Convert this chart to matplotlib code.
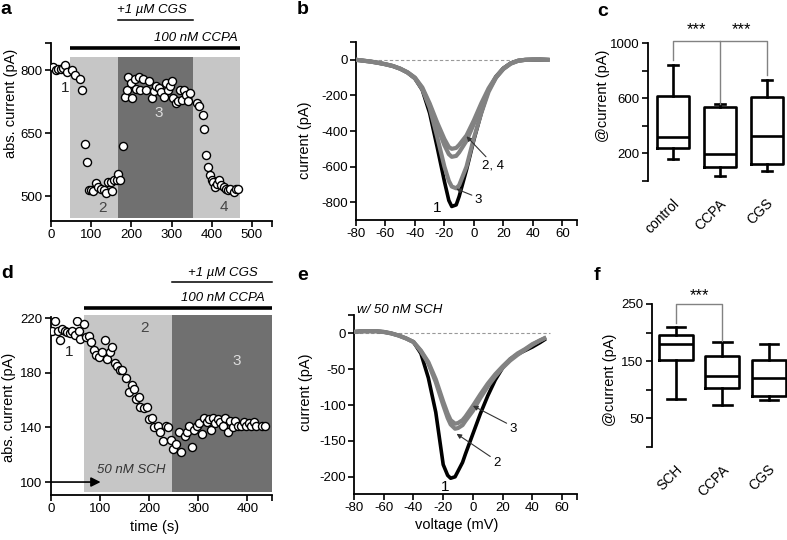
import matplotlib
matplotlib.use('Agg')
import matplotlib.pyplot as plt
import matplotlib.transforms as mtrans

plt.rcParams['font.family'] = ['Liberation Sans', 'DejaVu Sans']
plt.rcParams['font.size'] = 9.5
plt.rcParams['axes.linewidth'] = 1.3
plt.rcParams['axes.unicode_minus'] = False

# ---- panel a: time course, CCPA then CCPA + CGS
a_time = [6, 12, 18, 25, 30, 36, 41, 53, 59, 72,
          78, 84, 89, 94, 99, 105, 111, 117, 125, 132,
          138, 143, 150, 152, 158, 164, 166, 172, 179, 184,
          189, 192, 198, 201, 208, 212, 218, 222, 230, 237,
          244, 251, 257, 261, 268, 274, 280, 286, 292, 296,
          301, 304, 311, 316, 321, 327, 331, 335, 341, 347,
          364, 368, 378, 381, 386, 391, 395, 400, 404, 409,
          413, 419, 424, 430, 436, 441, 446, 455, 460, 465]
a_curr = [808, 800, 802, 803, 806, 812, 797, 800, 788, 779,
          752, 624, 581, 514, 514, 513, 532, 521, 518, 516,
          508, 534, 534, 513, 538, 538, 552, 538, 620, 736,
          754, 783, 770, 735, 779, 756, 783, 754, 779, 754,
          775, 735, 751, 763, 757, 748, 736, 770, 754, 763,
          775, 734, 721, 727, 754, 730, 754, 740, 727, 747,
          721, 715, 694, 661, 598, 570, 551, 538, 534, 522,
          530, 538, 526, 522, 518, 516, 518, 510, 518, 518]
a_periods = [(48, 167), (167, 354), (354, 470)]   # CCPA / CCPA+CGS / CCPA
a_labels = ['1', '2', '3', '4']

# ---- panel b: I-V curves
b_volt = [-80, -75, -70, -65, -60, -55, -50, -45, -40, -35, -30, -25, -20, -17, -15,
          -12, -10, -5, 0, 5, 10, 15, 20, 25, 30, 35, 40, 45, 50]
b_i1 = [0, -5, -10, -17, -25, -35, -50, -72, -105, -170, -300, -487, -683, -790, -824,
        -815, -768, -618, -450, -300, -168, -94, -47, -19, -5, 0, 0, 0, 0]
b_i2 = [0, -5, -10, -17, -25, -35, -50, -70, -100, -155, -245, -350, -445, -490, -500,
        -495, -478, -425, -340, -245, -160, -95, -50, -20, -5, 0, 2, 2, 0]
b_i4 = [0, -5, -10, -17, -25, -35, -50, -71, -102, -162, -255, -370, -480, -530, -545,
        -540, -520, -455, -360, -260, -170, -100, -52, -22, -6, 0, 2, 3, 0]
b_i3 = [0, -5, -10, -17, -25, -35, -50, -72, -104, -165, -270, -430, -600, -680, -712,
        -722, -705, -600, -440, -300, -180, -100, -50, -20, -5, 0, 2, 2, 0]

# ---- panel c: box plot summary
c_names = ['control', 'CCPA', 'CGS']
c_whislo = [161, 38, 69]
c_q1 = [239, 101, 122]
c_med = [316, 193, 324]
c_q3 = [619, 539, 610]
c_whishi = [838, 556, 731]

# ---- panel d: time course with SCH
d_time = [3, 9, 14, 19, 23, 28, 33, 38, 43, 48,
          52, 56, 60, 67, 72, 77, 82, 87, 92, 98,
          104, 109, 115, 120, 125, 130, 135, 140, 145, 152,
          159, 164, 168, 173, 180, 182, 190, 195, 200, 205,
          210, 217, 222, 228, 234, 239, 244, 249, 254, 260,
          265, 272, 276, 282, 287, 292, 298, 302, 307, 311,
          317, 321, 325, 329, 334, 340, 345, 350, 355, 360,
          365, 371, 375, 381, 386, 392, 398, 403, 408, 413,
          418, 429, 435]
d_curr = [211, 218, 211, 204, 212, 211, 210, 209, 211, 208,
          218, 211, 205, 216, 206, 207, 203, 197, 193, 192,
          195, 204, 190, 195, 199, 187, 185, 182, 182, 176,
          166, 171, 168, 161, 162, 155, 154, 155, 146, 147,
          140, 141, 137, 130, 141, 140, 131, 124, 128, 137,
          122, 134, 137, 141, 126, 138, 141, 143, 135, 147,
          144, 146, 138, 147, 143, 146, 144, 141, 147, 137,
          145, 140, 145, 141, 141, 144, 141, 143, 141, 144,
          141, 141, 141]
d_periods = [(67, 246), (246, 450)]
d_labels = ['1', '2', '3']

# ---- panel e: I-V curves with SCH
e_volt = [-80, -75, -70, -65, -60, -55, -50, -45, -40, -35, -30, -25, -20, -17, -15,
          -12, -10, -7, -5, 0, 5, 10, 15, 20, 25, 30, 35, 40, 45, 48]
e_i1 = [2, 3, 3, 3, 2, 0, -3, -7, -12, -28, -62, -110, -183, -198, -202,
        -200, -192, -180, -168, -140, -112, -87, -65, -48, -36, -29, -24, -19, -13, -9]
e_i2 = [2, 3, 3, 3, 2, 0, -3, -7, -12, -25, -42, -68, -100, -118, -127,
        -133, -132, -128, -122, -108, -90, -74, -60, -48, -38, -30, -23, -16, -10, -7]
e_i3 = [2, 3, 3, 3, 2, 0, -3, -7, -12, -24, -40, -64, -95, -112, -121,
        -126, -125, -121, -116, -101, -85, -70, -57, -46, -36, -28, -22, -15, -10, -7]

# ---- panel f
f_names = ['SCH', 'CCPA', 'CGS']
f_whislo = [84, 74, 83]
f_q1 = [152, 104, 90]
f_med = [180, 124, 120]
f_q3 = [195, 159, 152]
f_whishi = [209, 183, 180]

LIGHT = '#c6c6c6'
DARK = '#707070'
GREY = '#828282'

W, H = 787, 540
fig = plt.figure(figsize=(W / 100, H / 100), dpi=100)


def axes_px(l, r, t, b):
    return fig.add_axes([l / W, 1 - b / H, (r - l) / W, (b - t) / H])


def style(ax):
    for s in ['top', 'right']:
        ax.spines[s].set_visible(False)
    ax.tick_params(which='both', direction='out', length=4, width=1.2, labelsize=9.5, pad=2)


def box_panel(ax, names, lo, q1, med, q3, hi, width, capw):
    stats = [dict(label=n, whislo=a, q1=b, med=c, q3=d, whishi=e, fliers=[])
             for n, a, b, c, d, e in zip(names, lo, q1, med, q3, hi)]
    lw = 1.9
    ax.bxp(stats, positions=[1, 2, 3], widths=width, capwidths=capw, showfliers=False,
           boxprops=dict(lw=lw), whiskerprops=dict(lw=lw), capprops=dict(lw=lw),
           medianprops=dict(color='black', lw=lw))
    style(ax)
    ax.spines['bottom'].set_visible(False)
    ax.tick_params(axis='x', length=0, pad=11, labelsize=10)
    off = mtrans.ScaledTranslation(0.09, 0, fig.dpi_scale_trans)
    for lab in ax.get_xticklabels():
        lab.set_rotation(45)
        lab.set_ha('right')
        lab.set_va('top')
        lab.set_transform(lab.get_transform() + off)


# ================= a
ax = axes_px(51, 272, 43, 221)
style(ax)
ax.set_xlim(0, 550)
ax.set_ylim(441, 865)
for (x0, x1), col in zip(a_periods, [LIGHT, DARK, LIGHT]):
    ax.fill_between([x0, x1], 449, 832, color=col, lw=0, zorder=0)
ax.plot(a_time, a_curr, 'o', ms=5.8, mfc='white', mec='black', mew=1, zorder=3)
ax.set_xticks([0, 100, 200, 300, 400, 500])
ax.set_xticks([550], minor=True)
ax.set_yticks([500, 650, 800])
ax.set_yticks([865], minor=True)
ax.set_ylabel('abs. current (pA)', fontsize=10.5)
ax.yaxis.set_label_coords(-0.15, 0.66)
tr = ax.get_xaxis_transform()
ax.plot([a_periods[0][0], a_periods[-1][1]], [0.972, 0.972], transform=tr,
        color='black', lw=2.6, clip_on=False, solid_capstyle='butt')
ax.text(465, 1.03, '100 nM CCPA', transform=tr, ha='right', va='center', style='italic')
ax.plot([a_periods[1][0], a_periods[1][1]], [1.13, 1.13], transform=tr,
        color='black', lw=1.1, clip_on=False)
ax.text(250, 1.185, '+1 µM CGS', transform=tr, ha='center', va='center', style='italic')
for lab, (x, y), col in zip(a_labels, [(36, 759), (129, 473), (267, 698), (430, 474)],
                            ['#222222', '#444444', '#dddddd', '#444444']):
    ax.text(x, y, lab, ha='center', va='center', fontsize=11, color=col, zorder=4)

# ================= b
ax = axes_px(356, 577, 42, 220)
style(ax)
ax.set_xlim(-80, 70)
ax.set_ylim(-900, 100)
ax.plot([-80, 50], [0, 0], ls=(0, (3, 2)), color='#999999', lw=0.8, zorder=1)
ax.plot(b_volt, b_i1, color='black', lw=2.6, zorder=2)
for cur in (b_i3, b_i4, b_i2):
    ax.plot(b_volt, cur, color=GREY, lw=3, zorder=3)
ax.set_xticks(range(-80, 61, 20))
ax.set_xticks([70], minor=True)
ax.set_yticks(range(-800, 1, 200))
ax.set_yticks([100], minor=True)
ax.set_ylabel('current (pA)', fontsize=10.5)
ax.yaxis.set_label_coords(-0.2, 0.45)
ap = dict(arrowstyle='-|>', color='#333333', lw=0.8, mutation_scale=7, shrinkA=0, shrinkB=0)
ax.text(-25, -835, '1', ha='center', va='center', fontsize=11)
ax.annotate('2, 4', xy=(-5, -430), xytext=(13, -594), ha='center', va='center',
            arrowprops=dict(ap, relpos=(0.3, 1.0)), fontsize=9.5)
ax.annotate('3', xy=(-12, -725), xytext=(3, -787), ha='center', va='center',
            arrowprops=dict(ap, relpos=(0.0, 0.8)), fontsize=9.5)

# ================= c
ax = axes_px(648, 787, 43, 181)
box_panel(ax, c_names, c_whislo, c_q1, c_med, c_q3, c_whishi, 0.69, 0.2)
ax.set_xlim(0.468, 3.425)
ax.set_ylim(0, 1000)
ax.set_yticks([200, 600, 1000])
ax.set_yticks([0, 400, 800], minor=True)
ax.set_ylabel('@current (pA)', fontsize=10.5)
ax.yaxis.set_label_coords(-0.27, 0.62)
ax.plot([1, 1, 2, 2], [880, 1015, 1015, 556], color=GREY, lw=1, clip_on=False)
ax.plot([2, 3, 3], [1015, 1015, 770], color=GREY, lw=1, clip_on=False)
ax.text(1.5, 1040, '***', ha='center', va='bottom', fontsize=12, clip_on=False)
ax.text(2.45, 1040, '***', ha='center', va='bottom', fontsize=12, clip_on=False)

# ================= d
ax = axes_px(51, 272, 317, 495)
style(ax)
ax.set_xlim(0, 450)
ax.set_ylim(90.5, 221)
for (x0, x1), col in zip(d_periods, [LIGHT, DARK]):
    ax.fill_between([x0, x1], 93, 222.5, color=col, lw=0, zorder=0, clip_on=False)
ax.plot(d_time, d_curr, 'o', ms=5.8, mfc='white', mec='black', mew=1, zorder=3)
ax.set_xticks([0, 100, 200, 300, 400])
ax.set_xticks([450], minor=True)
ax.set_yticks([100, 140, 180, 220])
ax.set_xlabel('time (s)', fontsize=10.5)
ax.xaxis.set_label_coords(0.47, -0.14)
ax.set_ylabel('abs. current (pA)', fontsize=10.5)
ax.yaxis.set_label_coords(-0.158, 0.494)
tr = ax.get_xaxis_transform()
ax.plot([d_periods[0][0], d_periods[-1][1]], [1.05, 1.05], transform=tr,
        color='black', lw=2.6, clip_on=False, solid_capstyle='butt')
ax.text(435, 1.107, '100 nM CCPA', transform=tr, ha='right', va='center', style='italic')
ax.plot([d_periods[1][0], d_periods[1][1]], [1.198, 1.198], transform=tr,
        color='black', lw=1.1, clip_on=False)
ax.text(422, 1.247, '+1 µM CGS', transform=tr, ha='right', va='center', style='italic')
ax.annotate('', xy=(101, 100), xytext=(0, 100),
            arrowprops=dict(arrowstyle='-|>', color='black', lw=1.2, mutation_scale=14,
                            shrinkA=0, shrinkB=0), zorder=4)
ax.text(164, 109, '50 nM SCH', ha='center', va='center', style='italic', color='#333333')
for lab, (x, y), col in zip(d_labels, [(36, 195), (191, 213), (378, 189)],
                            ['#222222', '#444444', '#dddddd']):
    ax.text(x, y, lab, ha='center', va='center', fontsize=11, color=col, zorder=4)

# ================= e
ax = axes_px(354, 577, 315, 494)
style(ax)
ax.set_xlim(-80, 70)
ax.set_ylim(-224, 25.6)
ax.plot([-80, 52], [0, 0], ls=(0, (3, 2)), color='#999999', lw=0.8, zorder=1)
ax.plot(e_volt, e_i1, color='black', lw=2.6, zorder=2)
for cur in (e_i2, e_i3):
    ax.plot(e_volt, cur, color=GREY, lw=3, zorder=3)
ax.set_xticks(range(-80, 61, 20))
ax.set_xticks([70], minor=True)
ax.set_yticks(range(-200, 1, 50))
ax.set_yticks([25.6], minor=True)
ax.set_xlabel('voltage (mV)', fontsize=10.5)
ax.xaxis.set_label_coords(0.46, -0.134)
ax.set_ylabel('current (pA)', fontsize=10.5)
ax.yaxis.set_label_coords(-0.184, 0.57)
ax.text(-49, 32, 'w/ 50 nM SCH', ha='center', va='center', style='italic', clip_on=False)
ax.text(-19, -214, '1', ha='center', va='center', fontsize=11)
ax.annotate('3', xy=(0, -101), xytext=(27, -134), ha='center', va='center',
            arrowprops=dict(ap, relpos=(0.0, 0.9)), fontsize=9.5)
ax.annotate('2', xy=(-11, -140), xytext=(16, -181), ha='center', va='center',
            arrowprops=dict(ap, relpos=(0.0, 0.9)), fontsize=9.5)

# ================= f
ax = axes_px(652, 787, 304, 447)
box_panel(ax, f_names, f_whislo, f_q1, f_med, f_q3, f_whishi, 0.73, 0.39)
ax.set_xlim(0.493, 3.383)
ax.set_ylim(0, 250)
ax.set_yticks([50, 150, 250])
ax.set_yticks([0, 100, 200], minor=True)
ax.set_ylabel('@current (pA)', fontsize=10.5)
ax.yaxis.set_label_coords(-0.26, 0.47)
ax.plot([1, 1, 2, 2], [217, 250, 250, 185], color=GREY, lw=1, clip_on=False)
ax.text(1.5, 252, '***', ha='center', va='bottom', fontsize=12, clip_on=False)

# panel letters
for lab, (x, y) in zip('abcdef', [(6, 10), (303, 9), (603, 12), (7, 273), (303, 275), (597, 275)]):
    fig.text(x / W, 1 - y / H, lab, fontsize=14, fontweight='bold', ha='center', va='center')

fig.savefig('out.png', dpi=100)
